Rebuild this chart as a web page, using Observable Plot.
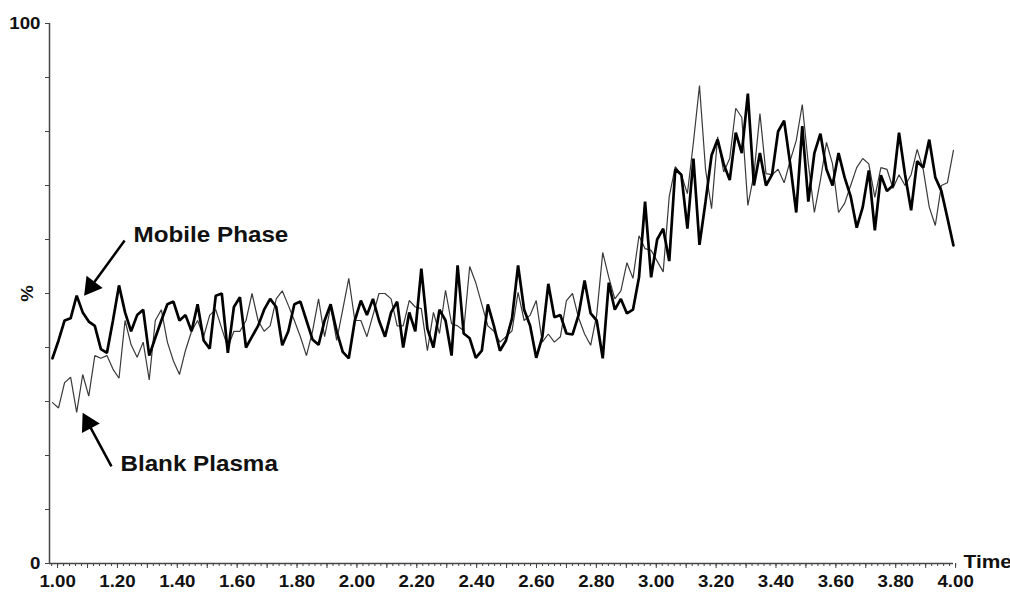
<!DOCTYPE html>
<html><head><meta charset="utf-8">
<script src="https://cdn.jsdelivr.net/npm/d3@7"></script>
<script src="https://cdn.jsdelivr.net/npm/@observablehq/plot@0.6"></script>
<style>
body{margin:0;background:#fff}
#chart svg text{font-family:"Liberation Sans",Arial,sans-serif}
</style>
</head><body><div id="chart"></div>
<script>
// Scan times (min): regular acquisition grid
const scanStart = 0.983, scanStep = 0.0202;
// Mobile Phase (thick trace), % of full scale
const mobilePhase = [
38,41.3,45,45.4,49.6,46.5,44.8,44,39.7,39,45,51.5,46.5,43,46,47,38.5,41.8,45,48,
48.5,45,46,43,48,41.3,39.8,49.6,50,39,
47.5,49.3,40,42,44,47,49,47.5,40.4,43,
48,48.5,45,41.5,40.5,45,48,43,39.2,38,
45,48.7,46,49,45,42,46.5,48.5,40,46.5,
43,54.6,43.5,40,47,45,38.5,55.2,42.6,41.7,
38.1,39.4,48,44,39.4,41.3,45.4,55.2,47,44,
38.1,41.9,51.8,45.6,46,42.6,42.4,46,52.4,46.3,
45,38,52,47,49,46.3,47,53,67,53,
60,62,56,73,72,62,75,59,67,75.6,
78.5,74,71,79.8,76,87,70,76,70,72,
80,82,74,65,81,67,76,79.6,73,70,
76,71.5,68,62.2,66,72.8,61.7,71.9,69,70,
79.8,72,65.4,74.5,73.3,78.5,71.5,69,64,58.9
];
// Blank Plasma (thin trace), % of full scale
const blankPlasma = [
29.8,28.8,33.5,34.5,28,35,31,38.5,38,38.5,36,34.3,45,40.5,38.2,41,34,45,47,41,
37.5,35,39.5,43,45,42,46,47,43.5,40,
43,43,45,50,45,43,44,49,50.5,47.8,
45,42,38.5,43,49,42,47.5,41.3,47,52.8,
45,45,42,46,50,50,49,44,44,48.7,
47.5,47.2,39.4,46.5,42.6,50.6,44.4,44,43.1,55,
52,48,44,43,41,42,43.1,50.2,45,46,
48.7,41,42.5,41,42,48.7,50,45.5,42.5,40.4,
46,57.6,53,49,50.5,55.7,52.8,60.7,58.3,58,
56,54,68,73.5,72,68.5,78,88.5,73,65.7,
79,72.5,75,84.3,82.6,66.3,72,83.3,72.2,72,
73,70.5,74.6,78.3,85,74,65,71,78,74,
65,66.7,70,73.3,75,74,67.8,73.3,73,69.5,
72,70,72,76.7,73,66,62.6,70,70.5,76.5
];
const yTicks = [0,10,20,30,40,50,60,70,80,90,100];
const yLabelValues = [0,100];
const xLabelTicks = [1.0,1.2,1.4,1.6,1.8,2.0,2.2,2.4,2.6,2.8,3.0,3.2,3.4,3.6,3.8,4.0];
const xMajorTicks = d3.range(10,41).map(i=>i/10);
const xMinorTicks = d3.range(49,201).map(i=>i/50);
const annotations = [
  {label:"Mobile Phase", t:1.254, v:60.9},
  {label:"Blank Plasma", t:1.210, v:18.5}
];
const arrows = [
  {t1:1.224, v1:59.8, t2:1.112, v2:51.3, rot:217},
  {t1:1.180, v1:18.0, t2:1.102, v2:26.0, rot:332}
];

const toRows = arr => arr.map((v,i)=>({t: scanStart + i*scanStep, v}));
const mp = toRows(mobilePhase), bp = toRows(blankPlasma);

const axisColor = "#444";
const chart = Plot.plot({
  width:1010, height:593,
  marginLeft:49, marginRight:57, marginTop:23, marginBottom:30,
  style:{background:"#fff", fontFamily:"Liberation Sans, Arial, sans-serif"},
  x:{domain:[0.973,3.993], axis:null},
  y:{domain:[0,100], axis:null},
  marks:[
    Plot.axisX(xMinorTicks,{anchor:"bottom", tickSize:3, tickFormat:()=>"", label:null, stroke:axisColor}),
    Plot.axisX(xMajorTicks,{anchor:"bottom", tickSize:5, tickFormat:()=>"", label:null, stroke:axisColor}),
    Plot.axisX(xLabelTicks,{anchor:"bottom", tickSize:0, tickPadding:11, tickFormat:d3.format(".2f"), label:null, fontSize:17, fontWeight:"bold", fill:"#111"}),
    Plot.axisY(yTicks,{anchor:"left", tickSize:4, tickPadding:5, tickFormat:d=>yLabelValues.includes(d)?String(d):"", label:null, fontSize:17, fontWeight:"bold", stroke:axisColor, fill:"#111"}),
    Plot.ruleY([0],{stroke:axisColor, strokeWidth:1.5}),
    Plot.ruleX([0.973],{y1:0, y2:100, stroke:axisColor, strokeWidth:1.5}),
    Plot.text(["%"],{x:()=>0.973, y:()=>50, dx:-22, rotate:-90, fontSize:17, fontWeight:"bold", fill:"#111"}),
    Plot.text(["Time"],{x:()=>3.993, y:()=>0, dx:10, dy:-2, textAnchor:"start", fontSize:19, fontWeight:"bold", fill:"#111"}),
    Plot.line(bp,{x:"t", y:"v", stroke:"#3a3a3a", strokeWidth:1.2, strokeLinejoin:"miter"}),
    Plot.line(mp,{x:"t", y:"v", stroke:"#000", strokeWidth:2.7, strokeLinejoin:"miter"}),
    Plot.link(arrows,{x1:"t1", y1:"v1", x2:"t2", y2:"v2", stroke:"#000", strokeWidth:2.5}),
    Plot.dot(arrows,{x:"t2", y:"v2", symbol:"triangle", r:7.5, fill:"#000", rotate:"rot"}),
    Plot.text(annotations,{x:"t", y:"v", text:"label", textAnchor:"start", fontSize:22, fontWeight:"bold", fill:"#111"})
  ]
});
document.getElementById("chart").appendChild(chart);
// slight horizontal widening of text to match original glyph proportions
chart.querySelectorAll("text").forEach(el=>{
  const len = el.getComputedTextLength();
  if (len > 0) { el.setAttribute("textLength", (len*1.1).toFixed(1)); el.setAttribute("lengthAdjust","spacingAndGlyphs"); }
});
</script>
</body></html>
